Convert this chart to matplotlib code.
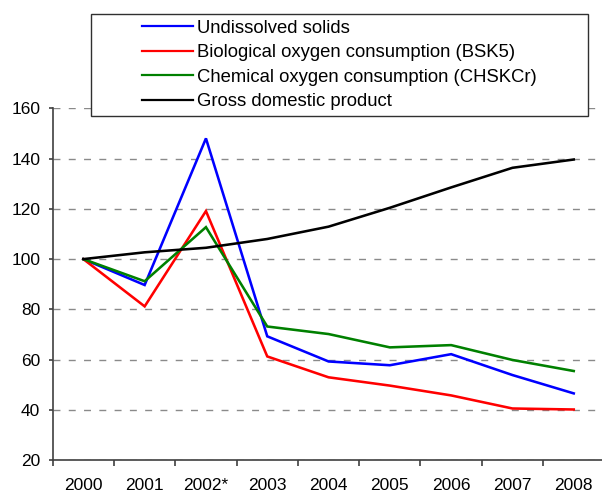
import matplotlib
matplotlib.use("Agg")
import matplotlib.pyplot as plt
from matplotlib.patches import Rectangle
import numpy as np

plt.rcParams['font.family'] = ['Liberation Sans', 'DejaVu Sans']

years = ["2000", "2001", "2002*", "2003", "2004", "2005", "2006", "2007", "2008"]
undissolved_solids = [100, 89.7, 148.0, 69.3, 59.3, 57.8, 62.2, 53.9, 46.6]
bsk5 = [100, 81.2, 119.1, 61.3, 53.0, 49.7, 45.8, 40.6, 40.2]
chskcr = [100, 91.2, 112.7, 73.2, 70.2, 64.9, 65.8, 59.9, 55.5]
gdp = [100, 102.7, 104.5, 108.0, 112.9, 120.4, 128.5, 136.3, 139.6]

series_labels = ["Undissolved solids",
                 "Biological oxygen consumption (BSK5)",
                 "Chemical oxygen consumption (CHSKCr)",
                 "Gross domestic product"]
series_colors = ["#0000FF", "#FF0000", "#008000", "#000000"]
y_ticks = [20, 40, 60, 80, 100, 120, 140, 160]

W, H = 602, 493
fig = plt.figure(figsize=(W / 100, H / 100), dpi=100)
ax_left, ax_right = 52.7, 604.4
ax_top, ax_bottom = 108.2, 460.3
ax = fig.add_axes([ax_left / W, 1 - ax_bottom / H,
                   (ax_right - ax_left) / W, (ax_bottom - ax_top) / H])

x = np.arange(len(years))
for vals, lab, col in zip([undissolved_solids, bsk5, chskcr, gdp],
                          series_labels, series_colors):
    ax.plot(x, vals, color=col, lw=1.85, label=lab, solid_joinstyle='miter',
            clip_on=False)

ax.set_xlim(-0.5, len(years) - 0.5)
ax.set_ylim(20, 160)
ax.set_yticks(y_ticks)
ax.set_yticklabels([str(v) for v in y_ticks], fontsize=12.5)
ax.set_xticks(x)
ax.set_xticklabels(years, fontsize=12.5)
ax.set_xticks(np.arange(len(years)) - 0.5, minor=True)

axis_color = "#404040"
for s in ["top", "right"]:
    ax.spines[s].set_visible(False)
for s in ["left", "bottom"]:
    ax.spines[s].set_color(axis_color)
    ax.spines[s].set_linewidth(1.2)

ax.tick_params(axis='x', which='major', length=0, pad=12.5)
ax.tick_params(axis='x', which='minor', length=4, width=1.2, color=axis_color,
               direction='out')
ax.tick_params(axis='y', which='major', length=3, width=1.2, color=axis_color,
               pad=6)

ax.yaxis.grid(True, color="#8a8a8a", lw=1.0, linestyle=(0, (5, 6)))
ax.set_axisbelow(True)

# legend box
lx0, lx1, ly0, ly1 = 90.7, 588.3, 14, 116
box = Rectangle((lx0 / W, 1 - ly1 / H), (lx1 - lx0) / W, (ly1 - ly0) / H,
                transform=fig.transFigure, facecolor="white",
                edgecolor="#303030", lw=1.0, zorder=5)
fig.patches.append(box)

handles, labels = ax.get_legend_handles_labels()
leg = fig.legend(handles, labels, loc='center',
                 bbox_to_anchor=((lx0 + lx1) / 2 / W, 1 - (ly0 + ly1) / 2 / H),
                 frameon=False, fontsize=13.3, handlelength=2.75,
                 handletextpad=0.25, labelspacing=0.41, borderpad=0)
leg.set_zorder(6)
for line in leg.get_lines():
    line.set_linewidth(1.6)

fig.savefig("out.png", dpi=100)
